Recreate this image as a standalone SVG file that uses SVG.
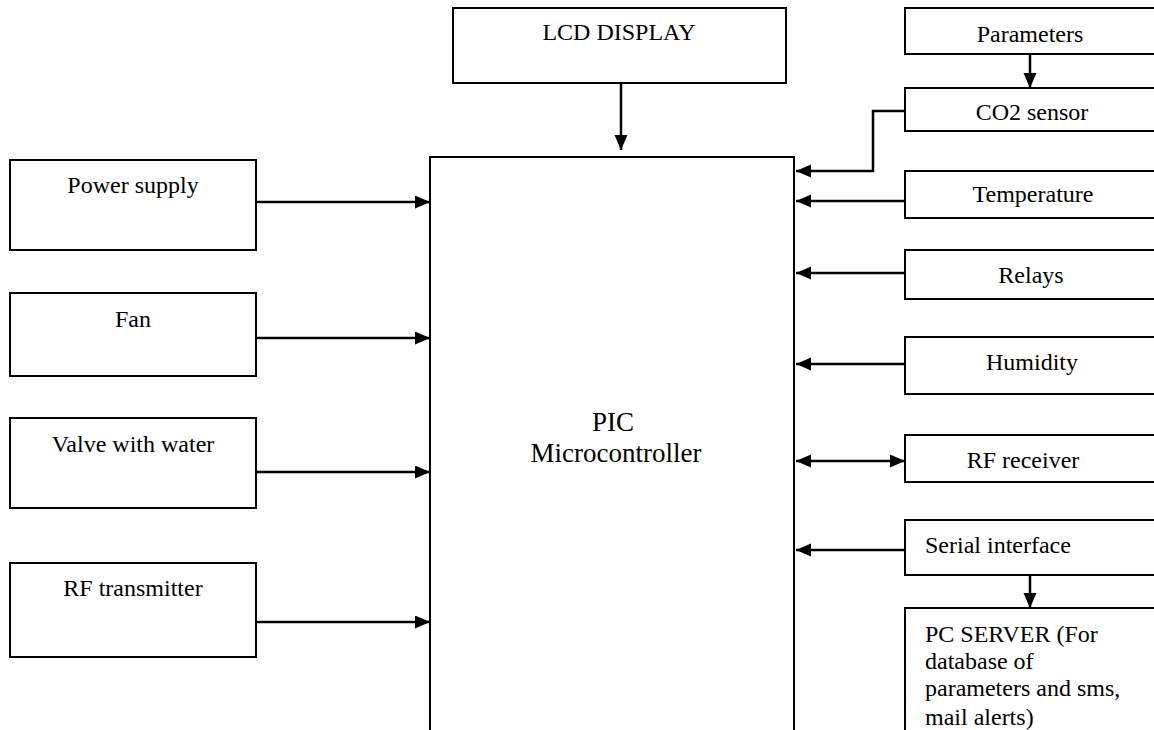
<svg xmlns="http://www.w3.org/2000/svg" width="1154" height="730" viewBox="0 0 1154 730">
<style>
.box{fill:#fff;stroke:#000;stroke-width:2}
.t{font-family:"Liberation Serif","Times New Roman",serif;font-size:24px;fill:#000}
.c{text-anchor:middle}
.big{font-size:27px}
.ln{fill:none;stroke:#000;stroke-width:2.5}
</style>
<defs>
<marker id="ah" markerUnits="userSpaceOnUse" markerWidth="16" markerHeight="14" refX="15" refY="6.5" orient="auto-start-reverse">
<path d="M0,0 L15,6.5 L0,13 z" fill="#000"/>
</marker>
</defs>
<rect width="1154" height="730" fill="#fff"/>
<g id="connectors">
<line class="ln" x1="621" y1="83" x2="621" y2="150" marker-end="url(#ah)"/>
<line class="ln" x1="256" y1="202" x2="430" y2="202" marker-end="url(#ah)"/>
<line class="ln" x1="256" y1="338" x2="430" y2="338" marker-end="url(#ah)"/>
<line class="ln" x1="256" y1="472" x2="430" y2="472" marker-end="url(#ah)"/>
<line class="ln" x1="256" y1="622" x2="430" y2="622" marker-end="url(#ah)"/>
<line class="ln" x1="1030" y1="54" x2="1030" y2="88" marker-end="url(#ah)"/>
<polyline class="ln" points="905,111 873,111 873,171 796,171" marker-end="url(#ah)"/>
<line class="ln" x1="905" y1="201" x2="796" y2="201" marker-end="url(#ah)"/>
<line class="ln" x1="905" y1="273" x2="796" y2="273" marker-end="url(#ah)"/>
<line class="ln" x1="905" y1="364" x2="796" y2="364" marker-end="url(#ah)"/>
<line class="ln" x1="796" y1="461" x2="905" y2="461" marker-start="url(#ah)" marker-end="url(#ah)"/>
<line class="ln" x1="905" y1="550" x2="796" y2="550" marker-end="url(#ah)"/>
<line class="ln" x1="1030" y1="575" x2="1030" y2="608" marker-end="url(#ah)"/>
</g>
<g id="lcd"><rect class="box" x="453" y="8" width="333" height="75"/><text class="t c" x="619" y="40">LCD DISPLAY</text></g>
<g id="pic"><rect class="box" x="430" y="157" width="364" height="600"/><text class="t c big" x="613" y="431">PIC</text><text class="t c big" x="616" y="462">Microcontroller</text></g>
<g id="power"><rect class="box" x="10" y="160" width="246" height="90"/><text class="t c" x="133" y="193">Power supply</text></g>
<g id="fan"><rect class="box" x="10" y="293" width="246" height="83"/><text class="t c" x="133" y="327">Fan</text></g>
<g id="valve"><rect class="box" x="10" y="418" width="246" height="90"/><text class="t c" x="133" y="452">Valve with water</text></g>
<g id="rftx"><rect class="box" x="10" y="563" width="246" height="94"/><text class="t c" x="133" y="596">RF transmitter</text></g>
<g id="parameters"><rect class="box" x="905" y="8" width="260" height="46"/><text class="t c" x="1030" y="42">Parameters</text></g>
<g id="co2"><rect class="box" x="905" y="88" width="260" height="43"/><text class="t c" x="1032" y="120">CO2 sensor</text></g>
<g id="temperature"><rect class="box" x="905" y="171" width="260" height="47"/><text class="t c" x="1033" y="202">Temperature</text></g>
<g id="relays"><rect class="box" x="905" y="250" width="260" height="49"/><text class="t c" x="1031" y="283">Relays</text></g>
<g id="humidity"><rect class="box" x="905" y="337" width="260" height="57"/><text class="t c" x="1032" y="370">Humidity</text></g>
<g id="rfrx"><rect class="box" x="905" y="435" width="260" height="47"/><text class="t c" x="1023" y="468">RF receiver</text></g>
<g id="serial"><rect class="box" x="905" y="520" width="260" height="55"/><text class="t" x="925" y="553">Serial interface</text></g>
<g id="pcserver"><rect class="box" x="905" y="608" width="260" height="150"/>
<text class="t" x="925" y="642">PC SERVER (For</text>
<text class="t" x="925" y="669">database of</text>
<text class="t" x="925" y="696">parameters and sms,</text>
<text class="t" x="925" y="725">mail alerts)</text></g>
</svg>
